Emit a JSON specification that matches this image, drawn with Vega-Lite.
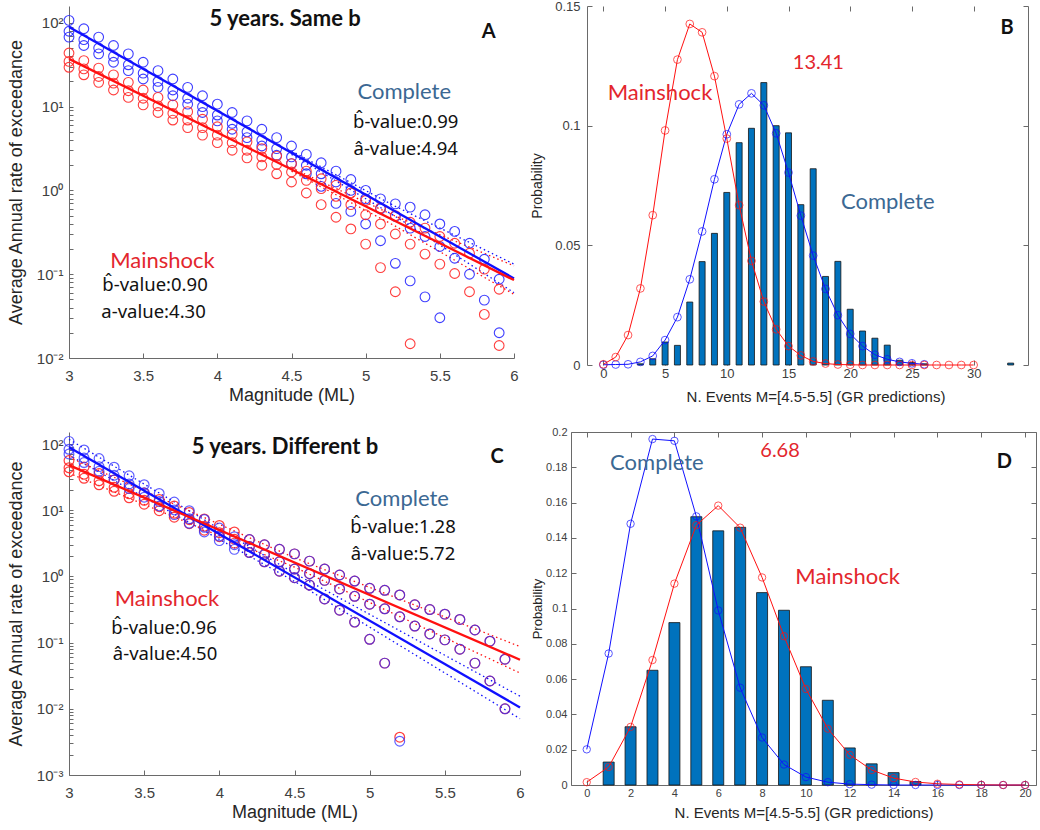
{
"$schema": "https://vega.github.io/schema/vega-lite/v6.json",
"background": "white",
"padding": {"left": 7, "top": 0, "right": 2, "bottom": 2},
"config": {
  "view": {"stroke": null},
  "axis": {"labelFont": "Liberation Sans", "titleFont": "Liberation Sans", "labelColor": "#404040", "titleColor": "#262626", "titleFontWeight": "normal", "domainColor": "#6a6a6a", "tickColor": "#6a6a6a", "grid": false, "labelFlush": false, "labelOverlap": false}
},
"columns": 2,
"bounds": "flush",
"spacing": {"row": 67, "column": 51},
"concat": [
{
  "width": 445, "height": 352,
  "encoding": {
    "x": {"field": "m", "type": "quantitative", "scale": {"domain": [3, 6], "nice": false, "zero": false}, "axis": null},
    "y": {"field": "v", "type": "quantitative", "scale": {"type": "log", "domain": [0.01, 159], "nice": false}, "axis": null}
  },
  "layer": [
    {"data": {"name": "A_lines"}, "transform": [{"filter": "datum.k != 'fit'"}],
     "mark": {"type": "line", "strokeWidth": 1.3, "strokeDash": [1.5, 3]},
     "encoding": {
       "x": {"field": "m", "type": "quantitative", "scale": {"domain": [3, 6], "nice": false, "zero": false},
             "axis": {"orient": "bottom", "values": [3, 3.5, 4, 4.5, 5, 5.5, 6], "format": ".1~f", "tickSize": -5, "labelPadding": 15, "labelFontSize": 15, "title": "Magnitude (ML)", "titleFontSize": 18, "titlePadding": 3}},
       "y": {"field": "v", "type": "quantitative", "scale": {"type": "log", "domain": [0.01, 159], "nice": false},
             "axis": {"orient": "left", "values": [0.01,0.02,0.03,0.04,0.05,0.06,0.07,0.08,0.09,0.1,0.2,0.3,0.4,0.5,0.6,0.7,0.8,0.9,1,2,3,4,5,6,7,8,9,10,20,30,40,50,60,70,80,90,100],
                      "labelExpr": "datum.value==100?'10²':datum.value==10?'10¹':datum.value==1?'10⁰':datum.value==0.1?'10⁻¹':datum.value==0.01?'10⁻²':''",
                      "tickSize": -4, "labelPadding": 10, "labelFontSize": 15, "title": "Average Annual rate of exceedance", "titleFontSize": 18, "titlePadding": 11}},
       "stroke": {"field": "g", "type": "nominal", "scale": {"domain": ["Complete", "Mainshock"], "range": ["#1010ff", "#ff1010"]}, "legend": null},
       "detail": [{"field": "g"}, {"field": "k"}]
     }},
    {"data": {"name": "A_pts"}, "transform": [{"fold": ["b1", "b2", "b3"], "as": ["k", "v"]}],
     "mark": {"type": "point", "filled": false, "size": 95, "strokeWidth": 1.1, "color": "#2a2aff", "opacity": 0.9}},
    {"data": {"name": "A_pts"}, "transform": [{"fold": ["r1", "r2", "r3"], "as": ["k", "v"]}],
     "mark": {"type": "point", "filled": false, "size": 95, "strokeWidth": 1.1, "color": "#ff2a2a", "opacity": 0.9}},
    {"data": {"name": "A_lines"}, "transform": [{"filter": "datum.k == 'fit'"}],
     "mark": {"type": "line", "strokeWidth": 2.3},
     "encoding": {
       "x": {"field": "m", "type": "quantitative", "scale": {"domain": [3, 6], "nice": false, "zero": false},
             "axis": {"orient": "top", "labels": false, "ticks": false, "domain": false, "title": null}},
       "y": {"field": "v", "type": "quantitative", "scale": {"type": "log", "domain": [0.01, 159], "nice": false},
             "axis": {"orient": "right", "labels": false, "ticks": false, "domain": false, "title": null}},
       "stroke": {"field": "g", "type": "nominal", "scale": {"domain": ["Complete", "Mainshock"], "range": ["#1010ff", "#ff1010"]}, "legend": null},
       "detail": {"field": "g"}
     }},
    {"data": {"name": "A_text"}, "transform": [{"filter": "datum.role == 'title'"}],
     "mark": {"type": "text", "font": "Lato", "fontSize": 22, "fontWeight": "bold", "color": "#111111"}, "encoding": {"text": {"field": "t"}}},
    {"data": {"name": "A_text"}, "transform": [{"filter": "datum.role == 'letter'"}],
     "mark": {"type": "text", "font": "Lato", "fontSize": 20, "fontWeight": "bold", "color": "#111111"}, "encoding": {"text": {"field": "t"}}},
    {"data": {"name": "A_text"}, "transform": [{"filter": "datum.role == 'name'"}],
     "mark": {"type": "text", "font": "Lato", "fontSize": 22},
     "encoding": {"text": {"field": "t"}, "color": {"field": "g", "type": "nominal", "scale": {"domain": ["Complete", "Mainshock"], "range": ["#3b6893", "#e3262d"]}, "legend": null}}},
    {"data": {"name": "A_text"}, "transform": [{"filter": "datum.role == 'stat'"}],
     "mark": {"type": "text", "font": "Noto Sans", "fontSize": 18.5, "color": "#111111"}, "encoding": {"text": {"field": "t"}}}
  ]
},
{
  "width": 457, "height": 359,
  "encoding": {
    "x": {"field": "n", "type": "quantitative", "scale": {"domain": [-2.218, 34], "nice": false, "zero": false}, "axis": null},
    "y": {"field": "p", "type": "quantitative", "scale": {"domain": [0, 0.15], "nice": false}, "axis": null}
  },
  "layer": [
    {"data": {"name": "B_bars"},
     "mark": {"type": "bar", "orient": "vertical", "size": 6, "color": "#0072bd", "stroke": "#151515", "strokeWidth": 0.8},
     "encoding": {
       "x": {"field": "n", "type": "quantitative", "scale": {"domain": [-2.218, 34], "nice": false, "zero": false},
             "axis": {"orient": "bottom", "values": [0, 5, 10, 15, 20, 25, 30], "format": "d", "domain": false, "tickSize": -5, "labelPadding": 7, "labelFontSize": 13, "title": "N. Events M=[4.5-5.5] (GR predictions)", "titleFontSize": 15, "titlePadding": 9, "titleX": 244.5}},
       "y": {"field": "p", "type": "quantitative", "scale": {"domain": [0, 0.15], "nice": false},
             "axis": {"orient": "left", "offset": -16, "values": [0, 0.05, 0.1, 0.15], "format": ".2~f", "tickSize": -5, "labelPadding": 12, "labelFontSize": 13, "title": "Probability", "titleFontSize": 14, "titlePadding": 10}}
     }},
    {"data": {"name": "B_curves"},
     "mark": {"type": "line", "strokeWidth": 1},
     "encoding": {
       "x": {"field": "n", "type": "quantitative", "scale": {"domain": [-2.218, 34], "nice": false, "zero": false},
             "axis": {"orient": "top", "values": [0, 5, 10, 15, 20, 25, 30], "labels": false, "domain": false, "tickSize": -5, "title": null}},
       "y": {"field": "p", "type": "quantitative", "scale": {"domain": [0, 0.15], "nice": false},
             "axis": {"orient": "right", "values": [0, 0.05, 0.1, 0.15], "labels": false, "tickSize": -5, "title": null}},
       "stroke": {"field": "g", "type": "nominal", "scale": {"domain": ["Complete", "Mainshock"], "range": ["#2a2aff", "#ff2a2a"]}, "legend": null}
     }},
    {"data": {"name": "B_curves"},
     "mark": {"type": "point", "filled": false, "size": 60, "strokeWidth": 1},
     "encoding": {"stroke": {"field": "g", "type": "nominal", "scale": {"domain": ["Complete", "Mainshock"], "range": ["#2a2aff", "#ff2a2a"]}, "legend": null}}},
    {"data": {"values": [{"n": 13.41}]},
     "mark": {"type": "rule", "color": "#e00000", "strokeWidth": 3.5},
     "encoding": {"y": {"datum": 0, "type": "quantitative", "scale": {"domain": [0, 0.15], "nice": false}, "axis": null}, "y2": {"datum": 0.15}}},
    {"data": {"values": [{"p": 0}, {"p": 0.15}]},
     "mark": {"type": "rule", "color": "#6a6a6a", "strokeWidth": 1},
     "encoding": {"x": {"datum": -0.95, "type": "quantitative", "scale": {"domain": [-2.218, 34], "nice": false, "zero": false}, "axis": null}, "x2": {"datum": 34}}},
    {"data": {"name": "B_text"}, "transform": [{"filter": "datum.role == 'name'"}],
     "mark": {"type": "text", "font": "Lato", "fontSize": 22},
     "encoding": {"text": {"field": "t"}, "color": {"field": "g", "type": "nominal", "scale": {"domain": ["Complete", "Mainshock"], "range": ["#3b6893", "#e3262d"]}, "legend": null}}},
    {"data": {"name": "B_text"}, "transform": [{"filter": "datum.role == 'mean'"}],
     "mark": {"type": "text", "font": "Lato", "fontSize": 20, "color": "#e3262d"}, "encoding": {"text": {"field": "t"}}},
    {"data": {"name": "B_text"}, "transform": [{"filter": "datum.role == 'letter'"}],
     "mark": {"type": "text", "font": "Lato", "fontSize": 20, "fontWeight": "bold", "color": "#111111"}, "encoding": {"text": {"field": "t"}}}
  ]
},
{
  "width": 451, "height": 343,
  "encoding": {
    "x": {"field": "m", "type": "quantitative", "scale": {"domain": [3, 6], "nice": false, "zero": false}, "axis": null},
    "y": {"field": "v", "type": "quantitative", "scale": {"type": "log", "domain": [0.001, 151.8], "nice": false}, "axis": null}
  },
  "layer": [
    {"data": {"name": "C_lines"}, "transform": [{"filter": "datum.k != 'fit'"}],
     "mark": {"type": "line", "strokeWidth": 1.3, "strokeDash": [1.5, 3]},
     "encoding": {
       "x": {"field": "m", "type": "quantitative", "scale": {"domain": [3, 6], "nice": false, "zero": false},
             "axis": {"orient": "bottom", "values": [3, 3.5, 4, 4.5, 5, 5.5, 6], "format": ".1~f", "tickSize": -5, "labelPadding": 15, "labelFontSize": 15, "title": "Magnitude (ML)", "titleFontSize": 18, "titlePadding": 3}},
       "y": {"field": "v", "type": "quantitative", "scale": {"type": "log", "domain": [0.001, 151.8], "nice": false},
             "axis": {"orient": "left", "values": [0.001,0.002,0.003,0.004,0.005,0.006,0.007,0.008,0.009,0.01,0.02,0.03,0.04,0.05,0.06,0.07,0.08,0.09,0.1,0.2,0.3,0.4,0.5,0.6,0.7,0.8,0.9,1,2,3,4,5,6,7,8,9,10,20,30,40,50,60,70,80,90,100],
                      "labelExpr": "datum.value==100?'10²':datum.value==10?'10¹':datum.value==1?'10⁰':datum.value==0.1?'10⁻¹':datum.value==0.01?'10⁻²':datum.value==0.001?'10⁻³':''",
                      "tickSize": -4, "labelPadding": 10, "labelFontSize": 15, "title": "Average Annual rate of exceedance", "titleFontSize": 18, "titlePadding": 11}},
       "stroke": {"field": "g", "type": "nominal", "scale": {"domain": ["Complete", "Mainshock"], "range": ["#1010ff", "#ff1010"]}, "legend": null},
       "detail": [{"field": "g"}, {"field": "k"}]
     }},
    {"data": {"name": "C_pts"}, "transform": [{"fold": ["r1", "r2", "r3"], "as": ["k", "v"]}],
     "mark": {"type": "point", "filled": false, "size": 95, "strokeWidth": 1.2, "color": "#ff2a2a", "opacity": 0.9}},
    {"data": {"name": "C_pts"}, "transform": [{"fold": ["b1", "b2", "b3"], "as": ["k", "v"]}],
     "mark": {"type": "point", "filled": false, "size": 95, "strokeWidth": 1.2, "color": "#2a2aff", "opacity": 0.75}},
    {"data": {"name": "C_lines"}, "transform": [{"filter": "datum.k == 'fit'"}],
     "mark": {"type": "line", "strokeWidth": 2.3},
     "encoding": {
       "x": {"field": "m", "type": "quantitative", "scale": {"domain": [3, 6], "nice": false, "zero": false},
             "axis": {"orient": "top", "labels": false, "ticks": false, "domain": false, "title": null}},
       "y": {"field": "v", "type": "quantitative", "scale": {"type": "log", "domain": [0.001, 151.8], "nice": false},
             "axis": {"orient": "right", "labels": false, "ticks": false, "domain": false, "title": null}},
       "stroke": {"field": "g", "type": "nominal", "scale": {"domain": ["Complete", "Mainshock"], "range": ["#1010ff", "#ff1010"]}, "legend": null},
       "detail": {"field": "g"}
     }},
    {"data": {"name": "C_text"}, "transform": [{"filter": "datum.role == 'title'"}],
     "mark": {"type": "text", "font": "Lato", "fontSize": 22, "fontWeight": "bold", "color": "#111111"}, "encoding": {"text": {"field": "t"}}},
    {"data": {"name": "C_text"}, "transform": [{"filter": "datum.role == 'letter'"}],
     "mark": {"type": "text", "font": "Lato", "fontSize": 20, "fontWeight": "bold", "color": "#111111"}, "encoding": {"text": {"field": "t"}}},
    {"data": {"name": "C_text"}, "transform": [{"filter": "datum.role == 'name'"}],
     "mark": {"type": "text", "font": "Lato", "fontSize": 22},
     "encoding": {"text": {"field": "t"}, "color": {"field": "g", "type": "nominal", "scale": {"domain": ["Complete", "Mainshock"], "range": ["#3b6893", "#e3262d"]}, "legend": null}}},
    {"data": {"name": "C_text"}, "transform": [{"filter": "datum.role == 'stat'"}],
     "mark": {"type": "text", "font": "Noto Sans", "fontSize": 18.5, "color": "#111111"}, "encoding": {"text": {"field": "t"}}}
  ]
},
{
  "width": 465, "height": 353,
  "encoding": {
    "x": {"field": "n", "type": "quantitative", "scale": {"domain": [-0.49, 20.27], "nice": false, "zero": false}, "axis": null},
    "y": {"field": "p", "type": "quantitative", "scale": {"domain": [0, 0.2], "nice": false}, "axis": null}
  },
  "layer": [
    {"data": {"name": "D_bars"},
     "mark": {"type": "bar", "orient": "vertical", "size": 11, "color": "#0072bd", "stroke": "#151515", "strokeWidth": 0.8},
     "encoding": {
       "x": {"field": "n", "type": "quantitative", "scale": {"domain": [-0.49, 20.27], "nice": false, "zero": false},
             "axis": {"orient": "bottom", "values": [0, 2, 4, 6, 8, 10, 12, 14, 16, 18, 20], "format": "d", "tickSize": -5, "labelPadding": 7, "labelFontSize": 11, "title": "N. Events M=[4.5-5.5] (GR predictions)", "titleFontSize": 15, "titlePadding": 7}},
       "y": {"field": "p", "type": "quantitative", "scale": {"domain": [0, 0.2], "nice": false},
             "axis": {"orient": "left", "values": [0, 0.02, 0.04, 0.06, 0.08, 0.1, 0.12, 0.14, 0.16, 0.18, 0.2], "format": ".2~f", "tickSize": -5, "labelPadding": 9, "labelFontSize": 11, "title": "Probability", "titleFontSize": 13, "titlePadding": 1}}
     }},
    {"data": {"name": "D_curves"},
     "mark": {"type": "line", "strokeWidth": 1},
     "encoding": {
       "x": {"field": "n", "type": "quantitative", "scale": {"domain": [-0.49, 20.27], "nice": false, "zero": false},
             "axis": {"orient": "top", "values": [0, 2, 4, 6, 8, 10, 12, 14, 16, 18, 20], "labels": false, "tickSize": -5, "title": null}},
       "y": {"field": "p", "type": "quantitative", "scale": {"domain": [0, 0.2], "nice": false},
             "axis": {"orient": "right", "values": [0, 0.02, 0.04, 0.06, 0.08, 0.1, 0.12, 0.14, 0.16, 0.18, 0.2], "labels": false, "tickSize": -5, "title": null}},
       "stroke": {"field": "g", "type": "nominal", "scale": {"domain": ["Complete", "Mainshock"], "range": ["#2a2aff", "#ff2a2a"]}, "legend": null}
     }},
    {"data": {"name": "D_curves"},
     "mark": {"type": "point", "filled": false, "size": 55, "strokeWidth": 1},
     "encoding": {"stroke": {"field": "g", "type": "nominal", "scale": {"domain": ["Complete", "Mainshock"], "range": ["#2a2aff", "#ff2a2a"]}, "legend": null}}},
    {"data": {"values": [{"n": 6.68}]},
     "mark": {"type": "rule", "color": "#e00000", "strokeWidth": 3.5},
     "encoding": {"y": {"datum": 0, "type": "quantitative", "scale": {"domain": [0, 0.2], "nice": false}, "axis": null}, "y2": {"datum": 0.2}}},
    {"data": {"name": "D_text"}, "transform": [{"filter": "datum.role == 'name'"}],
     "mark": {"type": "text", "font": "Lato", "fontSize": 22},
     "encoding": {"text": {"field": "t"}, "color": {"field": "g", "type": "nominal", "scale": {"domain": ["Complete", "Mainshock"], "range": ["#3b6893", "#e3262d"]}, "legend": null}}},
    {"data": {"name": "D_text"}, "transform": [{"filter": "datum.role == 'mean'"}],
     "mark": {"type": "text", "font": "Lato", "fontSize": 20, "color": "#e3262d"}, "encoding": {"text": {"field": "t"}}},
    {"data": {"name": "D_text"}, "transform": [{"filter": "datum.role == 'letter'"}],
     "mark": {"type": "text", "font": "Lato", "fontSize": 20, "fontWeight": "bold", "color": "#111111"}, "encoding": {"text": {"field": "t"}}}
  ]
}
],
"datasets": {
  "A_pts": [
    {"m":3.0,"b1":107.2,"b2":79.4,"b3":67.6,"r1":43.7,"r2":34.7,"r3":29.5},
    {"m":3.1,"b1":85.1,"b2":63.1,"b3":53.7,"r1":35.5,"r2":28.2,"r3":24.0},
    {"m":3.2,"b1":67.6,"b2":50.1,"b3":42.7,"r1":28.8,"r2":22.9,"r3":19.5},
    {"m":3.3,"b1":53.7,"b2":39.8,"b3":33.9,"r1":24.0,"r2":19.1,"r3":15.8},
    {"m":3.4,"b1":42.7,"b2":31.6,"b3":26.9,"r1":19.5,"r2":15.5,"r3":12.9},
    {"m":3.5,"b1":33.9,"b2":25.1,"b3":21.4,"r1":15.8,"r2":12.6,"r3":10.5},
    {"m":3.6,"b1":26.9,"b2":20.0,"b3":17.0,"r1":12.9,"r2":10.2,"r3":8.51},
    {"m":3.7,"b1":21.4,"b2":15.8,"b3":13.5,"r1":10.5,"r2":8.32,"r3":6.92},
    {"m":3.8,"b1":17.0,"b2":12.6,"b3":10.7,"r1":8.71,"r2":6.92,"r3":5.62},
    {"m":3.9,"b1":13.5,"b2":10.0,"b3":8.51,"r1":7.08,"r2":5.62,"r3":4.57},
    {"m":4.0,"b1":10.7,"b2":7.94,"b3":6.76,"r1":5.75,"r2":4.57,"r3":3.72},
    {"m":4.1,"b1":8.51,"b2":6.31,"b3":5.37,"r1":4.68,"r2":3.72,"r3":3.02},
    {"m":4.2,"b1":6.76,"b2":5.01,"b3":4.27,"r1":3.80,"r2":3.02,"r3":2.45},
    {"m":4.3,"b1":5.37,"b2":3.98,"b3":3.39,"r1":3.16,"r2":2.51,"r3":2.00},
    {"m":4.4,"b1":4.27,"b2":3.16,"b3":2.63,"r1":2.57,"r2":2.04,"r3":1.58},
    {"m":4.5,"b1":3.39,"b2":2.51,"b3":2.09,"r1":2.09,"r2":1.66,"r3":1.26},
    {"m":4.6,"b1":2.69,"b2":2.00,"b3":1.58,"r1":1.70,"r2":1.32,"r3":0.933},
    {"m":4.7,"b1":2.14,"b2":1.58,"b3":1.12,"r1":1.38,"r2":1.05,"r3":0.676},
    {"m":4.8,"b1":1.70,"b2":1.26,"b3":0.70,"r1":1.15,"r2":0.851,"r3":0.479},
    {"m":4.9,"b1":1.35,"b2":1.0,"b3":0.562,"r1":0.933,"r2":0.676,"r3":0.347},
    {"m":5.0,"b1":1.0,"b2":0.794,"b3":0.398,"r1":0.759,"r2":0.513,"r3":0.229},
    {"m":5.1,"b1":0.794,"b2":0.603,"b3":0.251,"r1":0.617,"r2":0.398,"r3":0.120},
    {"m":5.2,"b1":0.692,"b2":0.490,"b3":0.135,"r1":0.501,"r2":0.302,"r3":0.0617},
    {"m":5.3,"b1":0.631,"b2":0.355,"b3":0.0832,"r1":0.417,"r2":0.229,"r3":0.0148},
    {"m":5.4,"b1":0.513,"b2":0.282,"b3":0.0537,"r1":0.355,"r2":0.174,"r3":null},
    {"m":5.5,"b1":0.398,"b2":0.214,"b3":0.0302,"r1":0.282,"r2":0.132,"r3":null},
    {"m":5.6,"b1":0.324,"b2":0.155,"b3":null,"r1":0.234,"r2":0.102,"r3":null},
    {"m":5.7,"b1":0.234,"b2":0.1,"b3":null,"r1":0.178,"r2":0.0617,"r3":null},
    {"m":5.8,"b1":0.151,"b2":0.049,"b3":null,"r1":0.115,"r2":0.0331,"r3":null},
    {"m":5.9,"b1":0.0871,"b2":0.020,"b3":null,"r1":0.0661,"r2":0.0141,"r3":null}
  ],
  "A_lines": [
    {"g":"Complete","k":"fit","m":3,"v":89.1},{"g":"Complete","k":"fit","m":6,"v":0.0891},
    {"g":"Mainshock","k":"fit","m":3,"v":37.2},{"g":"Mainshock","k":"fit","m":6,"v":0.0851},
    {"g":"Complete","k":"hi","m":4.5,"v":2.95},{"g":"Complete","k":"hi","m":5.2,"v":0.646},{"g":"Complete","k":"hi","m":6,"v":0.132},
    {"g":"Complete","k":"lo","m":4.5,"v":2.69},{"g":"Complete","k":"lo","m":5.2,"v":0.490},{"g":"Complete","k":"lo","m":6,"v":0.0603},
    {"g":"Mainshock","k":"hi","m":4.5,"v":1.86},{"g":"Mainshock","k":"hi","m":5.2,"v":0.494},{"g":"Mainshock","k":"hi","m":6,"v":0.126},
    {"g":"Mainshock","k":"lo","m":4.5,"v":1.70},{"g":"Mainshock","k":"lo","m":5.2,"v":0.375},{"g":"Mainshock","k":"lo","m":6,"v":0.0575}
  ],
  "A_text": [
    {"role":"title","m":4.457,"v":111.6,"t":"5 years. Same b"},
    {"role":"letter","m":5.83,"v":77.6,"t":"A"},
    {"role":"name","g":"Complete","m":5.26,"v":15.1,"t":"Complete"},
    {"role":"stat","m":5.27,"v":6.6,"t":"b\u0302-value:0.99"},
    {"role":"stat","m":5.27,"v":3.16,"t":"\u00e2-value:4.94"},
    {"role":"name","g":"Mainshock","m":3.63,"v":0.143,"t":"Mainshock"},
    {"role":"stat","m":3.58,"v":0.074,"t":"b\u0302-value:0.90"},
    {"role":"stat","m":3.57,"v":0.035,"t":"a-value:4.30"}
  ],
  "C_pts": [
    {"m":3.0,"b1":109.6,"b2":83.2,"b3":70.8,"r1":56.2,"r2":43.7,"r3":38.0},
    {"m":3.1,"b1":81.3,"b2":61.5,"b3":52.4,"r1":44.9,"r2":34.8,"r3":30.3},
    {"m":3.2,"b1":60.3,"b2":45.5,"b3":38.7,"r1":35.8,"r2":27.8,"r3":24.2},
    {"m":3.3,"b1":44.7,"b2":33.7,"b3":28.6,"r1":28.6,"r2":22.2,"r3":19.3},
    {"m":3.4,"b1":33.1,"b2":24.9,"b3":21.2,"r1":22.8,"r2":17.7,"r3":15.4},
    {"m":3.5,"b1":24.3,"b2":18.4,"b3":15.7,"r1":18.2,"r2":14.1,"r3":12.3},
    {"m":3.6,"b1":17.9,"b2":13.6,"b3":11.6,"r1":14.5,"r2":11.3,"r3":9.82},
    {"m":3.7,"b1":13.3,"b2":10.1,"b3":8.57,"r1":11.6,"r2":8.99,"r3":7.83},
    {"m":3.8,"b1":9.82,"b2":7.45,"b3":6.34,"r1":9.25,"r2":7.18,"r3":6.25},
    {"m":3.9,"b1":7.26,"b2":5.51,"b3":4.69,"r1":7.38,"r2":5.73,"r3":4.99},
    {"m":4.0,"b1":5.37,"b2":4.07,"b3":3.47,"r1":5.89,"r2":4.57,"r3":3.98},
    {"m":4.1,"b1":3.98,"b2":3.01,"b3":2.56,"r1":4.70,"r2":3.65,"r3":3.18},
    {"m":4.2,"b1":3.6,"b2":2.82,"b3":2.29,"r1":3.6,"r2":2.82,"r3":2.29},
    {"m":4.3,"b1":3.0,"b2":2.14,"b3":1.66,"r1":3.0,"r2":2.14,"r3":1.66},
    {"m":4.4,"b1":2.57,"b2":1.66,"b3":1.20,"r1":2.57,"r2":1.66,"r3":1.20},
    {"m":4.5,"b1":2.19,"b2":1.29,"b3":0.955,"r1":2.19,"r2":1.29,"r3":0.955},
    {"m":4.6,"b1":1.70,"b2":1.10,"b3":0.741,"r1":1.70,"r2":1.10,"r3":0.741},
    {"m":4.7,"b1":1.29,"b2":0.871,"b3":0.457,"r1":1.29,"r2":0.871,"r3":0.457},
    {"m":4.8,"b1":1.05,"b2":0.646,"b3":0.309,"r1":1.05,"r2":0.646,"r3":0.309},
    {"m":4.9,"b1":0.851,"b2":0.501,"b3":0.204,"r1":0.851,"r2":0.501,"r3":0.204},
    {"m":5.0,"b1":0.661,"b2":0.380,"b3":0.112,"r1":0.661,"r2":0.380,"r3":0.112},
    {"m":5.1,"b1":0.617,"b2":0.324,"b3":0.049,"r1":0.617,"r2":0.324,"r3":0.049},
    {"m":5.2,"b1":0.525,"b2":0.245,"b3":0.00324,"r1":0.525,"r2":0.245,"r3":0.00372},
    {"m":5.3,"b1":0.372,"b2":0.178,"b3":null,"r1":0.372,"r2":0.178,"r3":null},
    {"m":5.4,"b1":0.316,"b2":0.135,"b3":null,"r1":0.316,"r2":0.135,"r3":null},
    {"m":5.5,"b1":0.269,"b2":0.110,"b3":null,"r1":0.269,"r2":0.110,"r3":null},
    {"m":5.6,"b1":0.224,"b2":0.0794,"b3":null,"r1":0.224,"r2":0.0794,"r3":null},
    {"m":5.7,"b1":0.155,"b2":0.049,"b3":null,"r1":0.155,"r2":0.049,"r3":null},
    {"m":5.8,"b1":0.105,"b2":0.0263,"b3":null,"r1":0.105,"r2":0.0263,"r3":null},
    {"m":5.9,"b1":0.0562,"b2":0.010,"b3":null,"r1":0.0562,"r2":0.010,"r3":null}
  ],
  "C_lines": [
    {"g":"Complete","k":"fit","m":3,"v":89.1},{"g":"Complete","k":"fit","m":6,"v":0.0105},
    {"g":"Mainshock","k":"fit","m":3,"v":47.9},{"g":"Mainshock","k":"fit","m":6,"v":0.055},
    {"g":"Complete","k":"hi","m":3,"v":117.5},{"g":"Complete","k":"hi","m":4.5,"v":1.11},{"g":"Complete","k":"hi","m":6,"v":0.0155},
    {"g":"Complete","k":"lo","m":3,"v":67.6},{"g":"Complete","k":"lo","m":4.5,"v":0.841},{"g":"Complete","k":"lo","m":6,"v":0.00708},
    {"g":"Mainshock","k":"hi","m":3,"v":63.1},{"g":"Mainshock","k":"hi","m":4.5,"v":1.91},{"g":"Mainshock","k":"hi","m":6,"v":0.0871},
    {"g":"Mainshock","k":"lo","m":3,"v":36.3},{"g":"Mainshock","k":"lo","m":4.5,"v":1.38},{"g":"Mainshock","k":"lo","m":6,"v":0.0347}
  ],
  "C_text": [
    {"role":"title","m":4.437,"v":90.1,"t":"5 years. Different b"},
    {"role":"letter","m":5.848,"v":63.7,"t":"C"},
    {"role":"name","g":"Complete","m":5.216,"v":14.8,"t":"Complete"},
    {"role":"stat","m":5.222,"v":5.57,"t":"b\u0302-value:1.28"},
    {"role":"stat","m":5.222,"v":2.18,"t":"\u00e2-value:5.72"},
    {"role":"name","g":"Mainshock","m":3.652,"v":0.456,"t":"Mainshock"},
    {"role":"stat","m":3.632,"v":0.168,"t":"b\u0302-value:0.96"},
    {"role":"stat","m":3.639,"v":0.0673,"t":"\u00e2-value:4.50"}
  ],
  "B_bars": [
    {"n":3,"p":0.0005},{"n":4,"p":0.0026},{"n":5,"p":0.0096},{"n":6,"p":0.0082},{"n":7,"p":0.0263},{"n":8,"p":0.0432},{"n":9,"p":0.055},{"n":10,"p":0.0721},{"n":11,"p":0.0929},{"n":12,"p":0.0989},{"n":13,"p":0.118},{"n":14,"p":0.1},{"n":15,"p":0.097},{"n":16,"p":0.067},{"n":17,"p":0.082},{"n":18,"p":0.037},{"n":19,"p":0.0433},{"n":20,"p":0.0233},{"n":21,"p":0.0142},{"n":22,"p":0.0112},{"n":23,"p":0.0083},{"n":24,"p":0.002},{"n":25,"p":0.001},{"n":26,"p":0.0005},{"n":33,"p":0.0008}
  ],
  "B_curves": [
    {"g":"Complete","n":0,"p":0.0001},{"g":"Complete","n":1,"p":0.0002},{"g":"Complete","n":2,"p":0.0003},{"g":"Complete","n":3,"p":0.0013},{"g":"Complete","n":4,"p":0.0038},{"g":"Complete","n":5,"p":0.0104},{"g":"Complete","n":6,"p":0.02},{"g":"Complete","n":7,"p":0.0358},{"g":"Complete","n":8,"p":0.0558},{"g":"Complete","n":9,"p":0.0776},{"g":"Complete","n":10,"p":0.0964},{"g":"Complete","n":11,"p":0.1089},{"g":"Complete","n":12,"p":0.1135},{"g":"Complete","n":13,"p":0.1085},{"g":"Complete","n":14,"p":0.0968},{"g":"Complete","n":15,"p":0.0804},{"g":"Complete","n":16,"p":0.0624},{"g":"Complete","n":17,"p":0.0457},{"g":"Complete","n":18,"p":0.0318},{"g":"Complete","n":19,"p":0.0208},{"g":"Complete","n":20,"p":0.013},{"g":"Complete","n":21,"p":0.0079},{"g":"Complete","n":22,"p":0.0043},{"g":"Complete","n":23,"p":0.0024},{"g":"Complete","n":24,"p":0.0013},{"g":"Complete","n":25,"p":0.0007},{"g":"Complete","n":26,"p":0.0003},
    {"g":"Mainshock","n":0,"p":0.0003},{"g":"Mainshock","n":1,"p":0.0033},{"g":"Mainshock","n":2,"p":0.0125},{"g":"Mainshock","n":3,"p":0.032},{"g":"Mainshock","n":4,"p":0.0626},{"g":"Mainshock","n":5,"p":0.098},{"g":"Mainshock","n":6,"p":0.1276},{"g":"Mainshock","n":7,"p":0.1425},{"g":"Mainshock","n":8,"p":0.139},{"g":"Mainshock","n":9,"p":0.1207},{"g":"Mainshock","n":10,"p":0.0946},{"g":"Mainshock","n":11,"p":0.0668},{"g":"Mainshock","n":12,"p":0.0435},{"g":"Mainshock","n":13,"p":0.0265},{"g":"Mainshock","n":14,"p":0.0149},{"g":"Mainshock","n":15,"p":0.0079},{"g":"Mainshock","n":16,"p":0.004},{"g":"Mainshock","n":17,"p":0.0015},{"g":"Mainshock","n":18,"p":0.0006},{"g":"Mainshock","n":19,"p":0.0002},{"g":"Mainshock","n":20,"p":0.0001},{"g":"Mainshock","n":21,"p":0.0},{"g":"Mainshock","n":22,"p":0.0},{"g":"Mainshock","n":23,"p":0.0},{"g":"Mainshock","n":24,"p":0.0},{"g":"Mainshock","n":25,"p":0.0},{"g":"Mainshock","n":26,"p":0.0},{"g":"Mainshock","n":27,"p":0.0},{"g":"Mainshock","n":28,"p":0.0},{"g":"Mainshock","n":29,"p":0.0},{"g":"Mainshock","n":30,"p":0.0}
  ],
  "B_text": [
    {"role":"name","g":"Mainshock","n":4.59,"p":0.1138,"t":"Mainshock"},
    {"role":"name","g":"Complete","n":23.04,"p":0.0679,"t":"Complete"},
    {"role":"mean","n":17.42,"p":0.126,"t":"13.41"},
    {"role":"letter","n":32.7,"p":0.1408,"t":"B"}
  ],
  "D_bars": [
    {"n":1,"p":0.013},{"n":2,"p":0.033},{"n":3,"p":0.065},{"n":4,"p":0.092},{"n":5,"p":0.152},{"n":6,"p":0.144},{"n":7,"p":0.146},{"n":8,"p":0.109},{"n":9,"p":0.099},{"n":10,"p":0.067},{"n":11,"p":0.048},{"n":12,"p":0.021},{"n":13,"p":0.012},{"n":14,"p":0.007},{"n":15,"p":0.002}
  ],
  "D_curves": [
    {"g":"Complete","n":0,"p":0.0202},{"g":"Complete","n":1,"p":0.0745},{"g":"Complete","n":2,"p":0.148},{"g":"Complete","n":3,"p":0.196},{"g":"Complete","n":4,"p":0.195},{"g":"Complete","n":5,"p":0.1522},{"g":"Complete","n":6,"p":0.0989},{"g":"Complete","n":7,"p":0.0551},{"g":"Complete","n":8,"p":0.0269},{"g":"Complete","n":9,"p":0.0116},{"g":"Complete","n":10,"p":0.0045},{"g":"Complete","n":11,"p":0.0016},{"g":"Complete","n":12,"p":0.0005},{"g":"Complete","n":13,"p":0.0002},{"g":"Complete","n":14,"p":0.0},{"g":"Complete","n":15,"p":0.0},{"g":"Complete","n":16,"p":0.0},{"g":"Complete","n":17,"p":0.0},{"g":"Complete","n":18,"p":0.0},{"g":"Complete","n":19,"p":0.0},{"g":"Complete","n":20,"p":0.0},
    {"g":"Mainshock","n":0,"p":0.0016},{"g":"Mainshock","n":1,"p":0.0102},{"g":"Mainshock","n":2,"p":0.0329},{"g":"Mainshock","n":3,"p":0.0708},{"g":"Mainshock","n":4,"p":0.1141},{"g":"Mainshock","n":5,"p":0.1472},{"g":"Mainshock","n":6,"p":0.1583},{"g":"Mainshock","n":7,"p":0.1458},{"g":"Mainshock","n":8,"p":0.1176},{"g":"Mainshock","n":9,"p":0.0843},{"g":"Mainshock","n":10,"p":0.0544},{"g":"Mainshock","n":11,"p":0.0319},{"g":"Mainshock","n":12,"p":0.0171},{"g":"Mainshock","n":13,"p":0.0085},{"g":"Mainshock","n":14,"p":0.0039},{"g":"Mainshock","n":15,"p":0.0017},{"g":"Mainshock","n":16,"p":0.0007},{"g":"Mainshock","n":17,"p":0.0003},{"g":"Mainshock","n":18,"p":0.0001},{"g":"Mainshock","n":19,"p":0.0},{"g":"Mainshock","n":20,"p":0.0}
  ],
  "D_text": [
    {"role":"name","g":"Complete","n":3.2,"p":0.1827,"t":"Complete"},
    {"role":"mean","n":8.82,"p":0.189,"t":"6.68"},
    {"role":"name","g":"Mainshock","n":11.9,"p":0.118,"t":"Mainshock"},
    {"role":"letter","n":19.06,"p":0.183,"t":"D"}
  ]
}
}
